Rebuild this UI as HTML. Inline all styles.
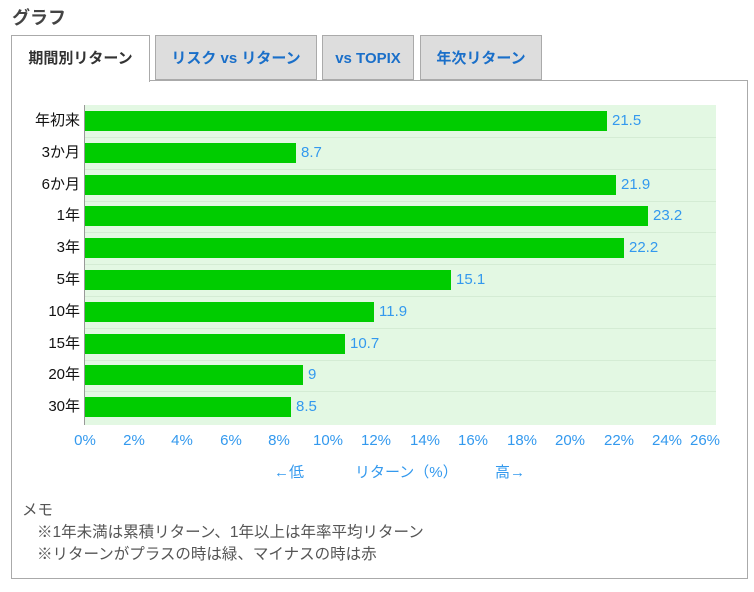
<!DOCTYPE html>
<html><head><meta charset="utf-8"><style>
body{margin:0;width:754px;height:592px;background:#fff;font-family:"Liberation Sans","Noto Sans CJK JP",sans-serif;position:relative;overflow:hidden}
.a{position:absolute;white-space:nowrap}
.tab{position:absolute;top:35px;height:45px;border:1px solid #aaa;background:#ddd;color:#1a6fc9;font-weight:bold;font-size:15px;line-height:45px;text-align:center;box-sizing:border-box}
.lab{position:absolute;right:674px;font-size:15px;color:#111;line-height:20px}
.bar{position:absolute;left:85px;height:20px;background:#00cc00}
.val{position:absolute;font-size:15px;color:#3399ee;line-height:20px}
.tick{position:absolute;top:432px;font-size:15px;color:#3399ee;transform:translateX(-50%)}
.sep{position:absolute;left:85px;width:631px;height:1px;background:#d4ecd4}
</style></head><body>
<div class="a" style="left:12px;top:4px;font-size:18px;font-weight:bold;color:#444">グラフ</div>
<div style="position:absolute;left:11px;top:80px;width:737px;height:499px;border:1px solid #aaa;box-sizing:border-box"></div>
<div class="tab" style="left:11px;width:139px;height:47px;background:#fff;color:#333;border-bottom:none">期間別リターン</div>
<div class="tab" style="left:155px;width:162px">リスク vs リターン</div>
<div class="tab" style="left:322px;width:92px">vs TOPIX</div>
<div class="tab" style="left:420px;width:122px">年次リターン</div>
<div style="position:absolute;left:85px;top:105px;width:631px;height:320px;background:#e3f8e3"></div>
<div style="position:absolute;left:84px;top:105px;width:1px;height:320px;background:#999"></div>
<div class="sep" style="top:137px"></div><div class="sep" style="top:169px"></div><div class="sep" style="top:201px"></div><div class="sep" style="top:232px"></div><div class="sep" style="top:264px"></div><div class="sep" style="top:296px"></div><div class="sep" style="top:328px"></div><div class="sep" style="top:360px"></div><div class="sep" style="top:391px"></div>
<div class="lab" style="top:111px">年初来</div><div class="bar" style="top:111px;width:522px"></div><div class="val" style="top:111px;left:612px">21.5</div>
<div class="lab" style="top:143px">3か月</div><div class="bar" style="top:143px;width:211px"></div><div class="val" style="top:143px;left:301px">8.7</div>
<div class="lab" style="top:175px">6か月</div><div class="bar" style="top:175px;width:531px"></div><div class="val" style="top:175px;left:621px">21.9</div>
<div class="lab" style="top:206px">1年</div><div class="bar" style="top:206px;width:563px"></div><div class="val" style="top:206px;left:653px">23.2</div>
<div class="lab" style="top:238px">3年</div><div class="bar" style="top:238px;width:539px"></div><div class="val" style="top:238px;left:629px">22.2</div>
<div class="lab" style="top:270px">5年</div><div class="bar" style="top:270px;width:366px"></div><div class="val" style="top:270px;left:456px">15.1</div>
<div class="lab" style="top:302px">10年</div><div class="bar" style="top:302px;width:289px"></div><div class="val" style="top:302px;left:379px">11.9</div>
<div class="lab" style="top:334px">15年</div><div class="bar" style="top:334px;width:260px"></div><div class="val" style="top:334px;left:350px">10.7</div>
<div class="lab" style="top:365px">20年</div><div class="bar" style="top:365px;width:218px"></div><div class="val" style="top:365px;left:308px">9</div>
<div class="lab" style="top:397px">30年</div><div class="bar" style="top:397px;width:206px"></div><div class="val" style="top:397px;left:296px">8.5</div>
<div class="tick" style="left:85px">0%</div><div class="tick" style="left:134px">2%</div><div class="tick" style="left:182px">4%</div><div class="tick" style="left:231px">6%</div><div class="tick" style="left:279px">8%</div><div class="tick" style="left:328px">10%</div><div class="tick" style="left:376px">12%</div><div class="tick" style="left:425px">14%</div><div class="tick" style="left:473px">16%</div><div class="tick" style="left:522px">18%</div><div class="tick" style="left:570px">20%</div><div class="tick" style="left:619px">22%</div><div class="tick" style="left:667px">24%</div><div class="tick" style="left:705px">26%</div>
<div class="a" style="left:274px;top:461px;font-size:15px;color:#3399ee">←低</div>
<div class="a" style="left:355px;top:461px;font-size:15px;color:#3399ee">リターン（%）</div>
<div class="a" style="left:495px;top:461px;font-size:15px;color:#3399ee">高→</div>
<div class="a" style="left:22px;top:498px;font-size:15.5px;color:#555">メモ</div>
<div class="a" style="left:37px;top:520px;font-size:15.5px;color:#555">※1年未満は累積リターン、1年以上は年率平均リターン</div>
<div class="a" style="left:37px;top:542px;font-size:15.5px;color:#555">※リターンがプラスの時は緑、マイナスの時は赤</div>
</body></html>
